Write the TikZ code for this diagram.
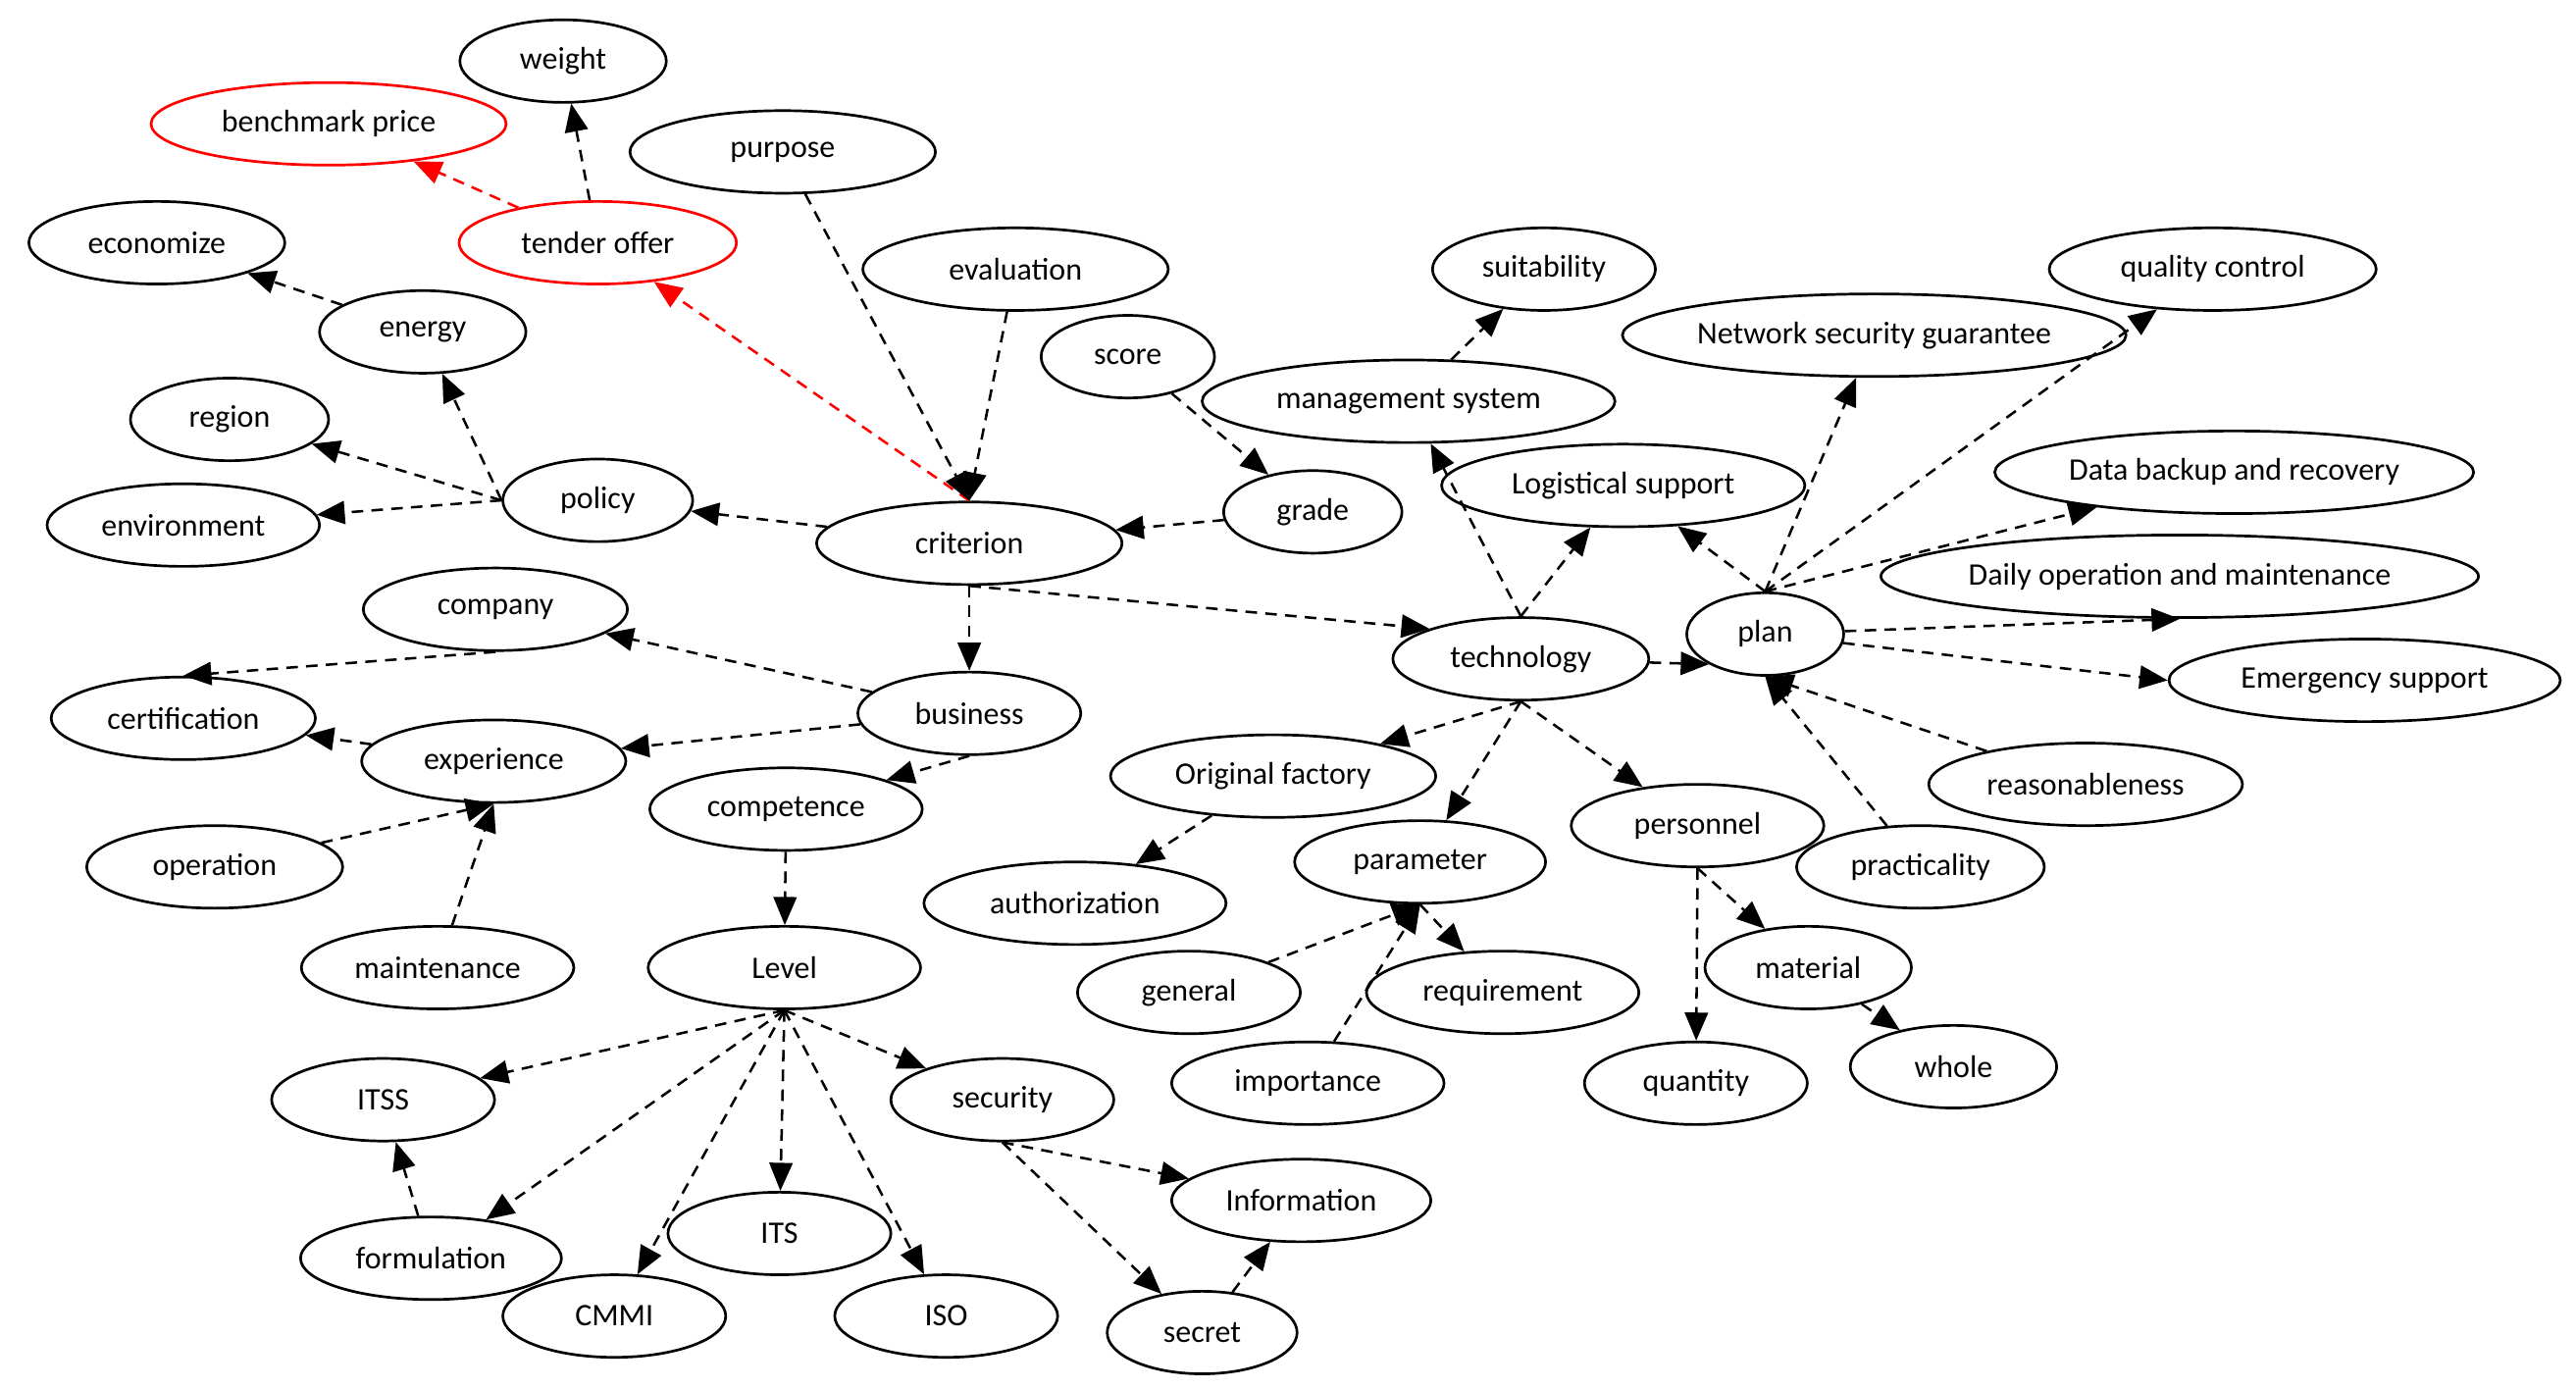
\documentclass[tikz,border=0pt]{standalone}
\usepackage{fontspec}
\setmainfont{Carlito}
\usetikzlibrary{arrows.meta,shapes.geometric}
\begin{document}
\begin{tikzpicture}[x=1pt,y=-1pt,
 e/.style={ellipse,draw,line width=1.6pt,minimum height=50pt,inner sep=0pt,font=\fontsize{19}{22}\selectfont},
 r/.style={e,draw=red},
 a/.style={dashed,line width=1.5pt,dash pattern=on 7pt off 5pt,-{Triangle[length=17pt,width=14pt]}},
 ra/.style={a,red}]
\useasboundingbox (0,0) rectangle (1560,841);
\node[e,minimum width=125pt] (weight) at (341,37) {weight};
\node[r,minimum width=215pt] (bench) at (199,75) {benchmark price};
\node[e,minimum width=185pt] (purpose) at (474,92) {purpose};
\node[r,minimum width=168pt] (tender) at (362,147) {tender offer};
\node[e,minimum width=155pt] (econ) at (95,147) {economize};
\node[e,minimum width=185pt] (eval) at (615,163) {evaluation};
\node[e,minimum width=125pt] (energy) at (256,201) {energy};
\node[e,minimum width=105pt] (score) at (683,216) {score};
\node[e,minimum width=135pt] (suit) at (935,163) {suitability};
\node[e,minimum width=198pt] (qc) at (1340,163) {quality control};
\node[e,minimum width=305pt] (net) at (1135,203) {Network security guarantee};
\node[e,minimum width=250pt] (ms) at (853,243) {management system};
\node[e,minimum width=120pt] (region) at (139,254) {region};
\node[e,minimum width=220pt] (log) at (983,294) {Logistical support};
\node[e,minimum width=290pt] (data) at (1353,286) {Data backup and recovery};
\node[e,minimum width=108pt] (grade) at (795,310) {grade};
\node[e,minimum width=115pt] (policy) at (362,303) {policy};
\node[e,minimum width=165pt] (env) at (111,318) {environment};
\node[e,minimum width=185pt] (crit) at (587,329) {criterion};
\node[e,minimum width=355pt] (daily) at (1320,349) {Daily operation and maintenance};
\node[e,minimum width=160pt] (company) at (300,369) {company};
\node[e,minimum width=95pt] (plan) at (1069,384) {plan};
\node[e,minimum width=155pt] (tech) at (921,399) {technology};
\node[e,minimum width=237pt] (emerg) at (1432,412) {Emergency support};
\node[e,minimum width=160pt] (cert) at (111,435) {certification};
\node[e,minimum width=135pt] (bus) at (587,432) {business};
\node[e,minimum width=160pt] (exp) at (299,461) {experience};
\node[e,minimum width=197pt] (orig) at (771,470) {Original factory};
\node[e,minimum width=190pt] (reas) at (1263,475) {reasonableness};
\node[e,minimum width=165pt] (comp) at (476,490) {competence};
\node[e,minimum width=153pt] (pers) at (1028,500) {personnel};
\node[e,minimum width=155pt] (oper) at (130,525) {operation};
\node[e,minimum width=150pt] (pract) at (1163,525) {practicality};
\node[e,minimum width=152pt] (param) at (860,522) {parameter};
\node[e,minimum width=183pt] (auth) at (651,547) {authorization};
\node[e,minimum width=165pt] (maint) at (265,586) {maintenance};
\node[e,minimum width=165pt] (level) at (475,586) {Level};
\node[e,minimum width=125pt] (mat) at (1095,586) {material};
\node[e,minimum width=135pt] (gen) at (720,601) {general};
\node[e,minimum width=165pt] (req) at (910,601) {requirement};
\node[e,minimum width=125pt] (whole) at (1183,646) {whole};
\node[e,minimum width=165pt] (imp) at (792,656) {importance};
\node[e,minimum width=135pt] (qty) at (1027,656) {quantity};
\node[e,minimum width=135pt] (itss) at (232,666) {ITSS};
\node[e,minimum width=135pt] (sec) at (607,666) {security};
\node[e,minimum width=157pt] (info) at (788,727) {Information};
\node[e,minimum width=135pt] (its) at (472,747) {ITS};
\node[e,minimum width=158pt] (form) at (261,762) {formulation};
\node[e,minimum width=135pt] (cmmi) at (372,797) {CMMI};
\node[e,minimum width=135pt] (iso) at (573,797) {ISO};
\node[e,minimum width=115pt] (secret) at (728,807) {secret};

\draw[a] (tender) -- (weight);
\draw[ra] (tender) -- (bench);
\draw[ra] (crit.north) -- (tender);
\draw[a] (purpose) -- (crit.north);
\draw[a] (eval) -- (crit.north);
\draw[a] (energy) -- (econ);
\draw[a] (policy.west) -- (energy);
\draw[a] (policy.west) -- (region);
\draw[a] (policy.west) -- (env);
\draw[a] (crit) -- (policy);
\draw[a] (score) -- (grade);
\draw[a] (grade) -- (crit);
\draw[a] (ms) -- (suit);
\draw[a] (tech.north) -- (ms);
\draw[a] (tech.north) -- (log);
\draw[a] (plan.north) -- (log);
\draw[a] (plan.north) -- (net);
\draw[a] (plan.north) -- (qc);
\draw[a] (plan.north) -- (data);
\draw[a] (plan) -- (daily.south);
\draw[a] (plan) -- (emerg.west);
\draw[a] (reas) -- (plan.south);
\draw[a] (pract) -- (plan.south);
\draw[a] (tech) -- (plan.south west);
\draw[a] (crit.south) -- (tech.north west);
\draw[a] (crit) -- (bus);
\draw[a] (bus) -- (company);
\draw[a] (bus) -- (exp);
\draw[a] (bus.south) -- (comp);
\draw[a] (company.south) -- (cert.north);
\draw[a] (exp) -- (cert);
\draw[a] (oper) -- (exp.south);
\draw[a] (maint) -- (exp.south);
\draw[a] (comp) -- (level);
\draw[a] (tech.south) -- (orig);
\draw[a] (tech.south) -- (param);
\draw[a] (tech.south) -- (pers);
\draw[a] (orig) -- (auth);
\draw[a] (gen) -- (param.south);
\draw[a] (imp) -- (param.south);
\draw[a] (param.south) -- (req);
\draw[a] (pers.south) -- (mat);
\draw[a] (pers.south) -- (qty);
\draw[a] (mat) -- (whole);
\draw[a] (level.south) -- (itss);
\draw[a] (level.south) -- (form);
\draw[a] (level.south) -- (cmmi);
\draw[a] (level.south) -- (its);
\draw[a] (level.south) -- (iso);
\draw[a] (level.south) -- (sec);
\draw[a] (form) -- (itss);
\draw[a] (sec.south) -- (info);
\draw[a] (sec.south) -- (secret);
\draw[a] (secret) -- (info);
\end{tikzpicture}
\end{document}
